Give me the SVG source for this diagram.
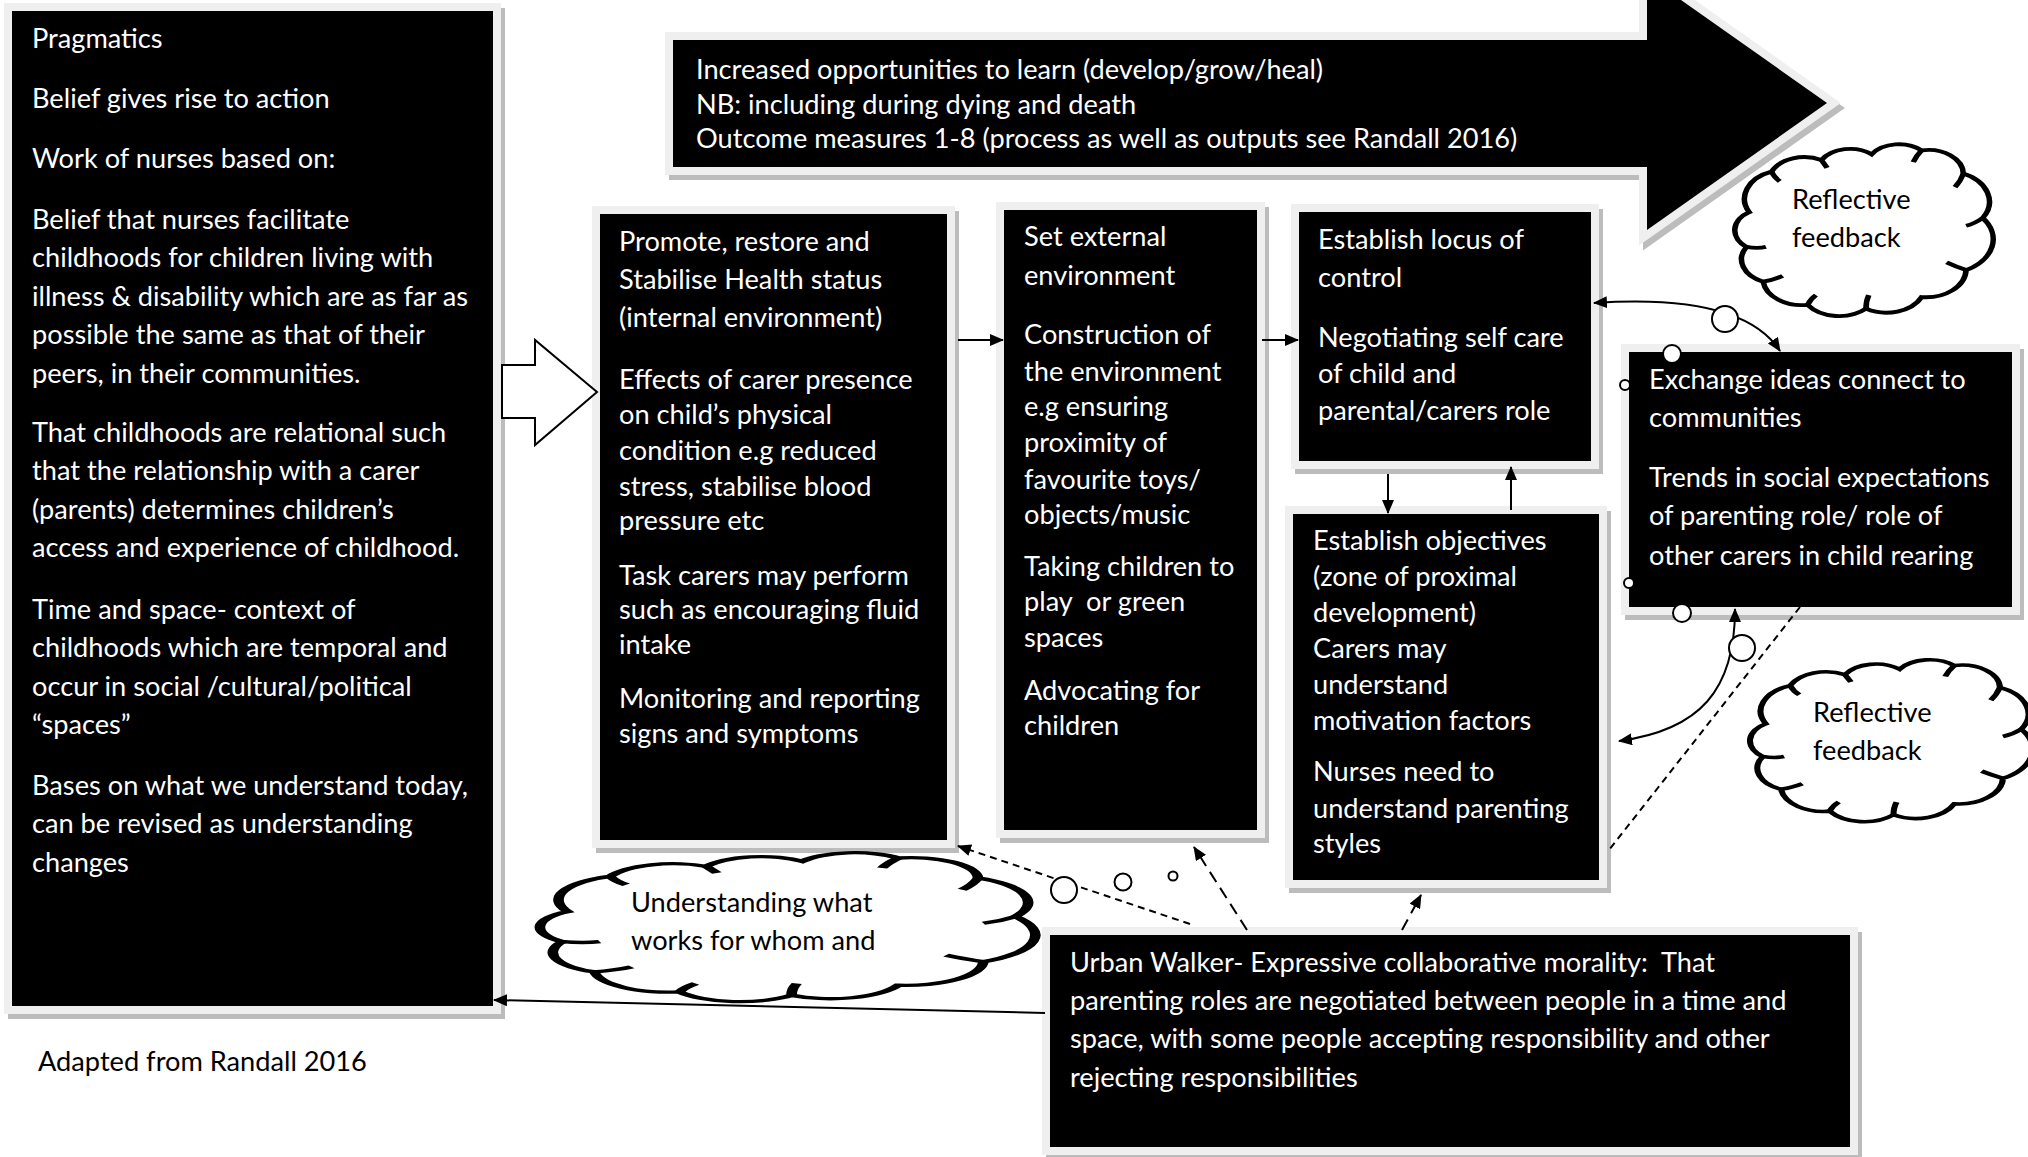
<svg xmlns="http://www.w3.org/2000/svg" width="2028" height="1157" viewBox="0 0 2028 1157">
<defs>
<style>
.sh{fill:#bcbcbc}
.fr{fill:#efefef}
.bx{fill:#000}
.t{font-family:Lato,"Liberation Sans",sans-serif;font-size:27.2px;white-space:pre}
.w{fill:#fff}
.k{fill:#000}
.ln{stroke:#000;stroke-width:2;fill:none}
.d1{stroke-dasharray:7 5}
.d2{stroke-dasharray:12 7}
.cl{fill:#fff;stroke:#000;stroke-width:2;vector-effect:non-scaling-stroke}
.ci{fill:none;stroke:#000;stroke-width:2;vector-effect:non-scaling-stroke}
.bub{fill:#fff;stroke:#000;stroke-width:2}
</style>
<marker id="ah" viewBox="0 0 14 12" refX="13" refY="6" markerWidth="14" markerHeight="12" markerUnits="userSpaceOnUse" orient="auto-start-reverse">
<path d="M0,0 L14,6 L0,12 z" fill="#000"/>
</marker>
<path id="cloud" d="M8,40 A15,15 0 0 1 16,19 A13,13 0 0 1 34,13 A12,12 0 0 1 52,10 A12,12 0 0 1 70,8 A12.5,12.5 0 0 1 85,20 A16,16 0 0 1 92,43 A18,18 0 0 1 86,70 A14.5,14.5 0 0 1 70,84 A14,14 0 0 1 50,90 A14,14 0 0 1 29,88 A14,14 0 0 1 13,76 A12.5,12.5 0 0 1 7,58 A11,11 0 0 1 8,40 Z"/>
<path id="cloudin" d="M16,19 Q17,22 19,24 M34,13 Q35,15 36,17 M70,8 Q68,11 67,14 M85,20 Q84,24 82,27 M92,43 Q89,46 86,47 M86,70 Q82,68 79,66 M50,90 Q50,86 51,83 M29,88 Q30,85 32,83 M13,76 Q17,75 20,73 M7,58 Q11,59 14,58"/>
</defs>
<rect width="2028" height="1157" fill="#fff"/>

<g id="node-pragmatics">
<rect class="sh" x="8" y="8" width="497" height="1011"/>
<rect class="fr" x="4" y="3" width="497" height="1011"/>
<rect class="bx" x="12" y="11" width="481" height="995"/>
<text class="t w">
<tspan x="32" y="48">Pragmatics</tspan>
<tspan x="32" y="108">Belief gives rise to action</tspan>
<tspan x="32" y="168">Work of nurses based on:</tspan>
<tspan x="32" y="229">Belief that nurses facilitate</tspan>
<tspan x="32" y="267">childhoods for children living with</tspan>
<tspan x="32" y="306">illness &amp; disability which are as far as</tspan>
<tspan x="32" y="344">possible the same as that of their</tspan>
<tspan x="32" y="383">peers, in their communities.</tspan>
<tspan x="32" y="442">That childhoods are relational such</tspan>
<tspan x="32" y="480">that the relationship with a carer</tspan>
<tspan x="32" y="519">(parents) determines children’s</tspan>
<tspan x="32" y="557">access and experience of childhood.</tspan>
<tspan x="32" y="619">Time and space- context of</tspan>
<tspan x="32" y="657">childhoods which are temporal and</tspan>
<tspan x="32" y="696">occur in social /cultural/political</tspan>
<tspan x="32" y="734">“spaces”</tspan>
<tspan x="32" y="795">Bases on what we understand today,</tspan>
<tspan x="32" y="833">can be revised as understanding</tspan>
<tspan x="32" y="872">changes</tspan>
</text>
</g>

<g id="node-outcomes">
<polygon points="673,40 1647,40 1647,-24 1827,103 1647,230 1647,167 673,167" transform="translate(4,5)" fill="#bcbcbc" stroke="#bcbcbc" stroke-width="16" stroke-linejoin="miter" stroke-miterlimit="4"/>
<polygon points="673,40 1647,40 1647,-24 1827,103 1647,230 1647,167 673,167" fill="#efefef" stroke="#efefef" stroke-width="16" stroke-linejoin="miter" stroke-miterlimit="4"/>
<polygon points="673,40 1647,40 1647,-24 1827,103 1647,230 1647,167 673,167" fill="#000"/>
<text class="t w">
<tspan x="696" y="79">Increased opportunities to learn (develop/grow/heal)</tspan>
<tspan x="696" y="114">NB: including during dying and death</tspan>
<tspan x="696" y="148">Outcome measures 1-8 (process as well as outputs see Randall 2016)</tspan>
</text>
</g>

<g id="node-health">
<rect class="sh" x="596" y="211" width="363" height="642"/>
<rect class="fr" x="592" y="206" width="363" height="642"/>
<rect class="bx" x="600" y="214" width="347" height="626"/>
<text class="t w">
<tspan x="619" y="251">Promote, restore and</tspan>
<tspan x="619" y="289">Stabilise Health status</tspan>
<tspan x="619" y="327">(internal environment)</tspan>
<tspan x="619" y="389">Effects of carer presence</tspan>
<tspan x="619" y="424">on child’s physical</tspan>
<tspan x="619" y="460">condition e.g reduced</tspan>
<tspan x="619" y="496">stress, stabilise blood</tspan>
<tspan x="619" y="530">pressure etc</tspan>
<tspan x="619" y="585">Task carers may perform</tspan>
<tspan x="619" y="619">such as encouraging fluid</tspan>
<tspan x="619" y="654">intake</tspan>
<tspan x="619" y="708">Monitoring and reporting</tspan>
<tspan x="619" y="743">signs and symptoms</tspan>
</text>
</g>

<g id="node-environment">
<rect class="sh" x="1000" y="207" width="269" height="636"/>
<rect class="fr" x="996" y="202" width="269" height="636"/>
<rect class="bx" x="1004" y="210" width="253" height="620"/>
<text class="t w">
<tspan x="1024" y="246">Set external</tspan>
<tspan x="1024" y="285">environment</tspan>
<tspan x="1024" y="344">Construction of</tspan>
<tspan x="1024" y="381">the environment</tspan>
<tspan x="1024" y="416">e.g ensuring</tspan>
<tspan x="1024" y="452">proximity of</tspan>
<tspan x="1024" y="489">favourite toys/</tspan>
<tspan x="1024" y="524">objects/music</tspan>
<tspan x="1024" y="576">Taking children to</tspan>
<tspan x="1024" y="611">play  or green</tspan>
<tspan x="1024" y="647">spaces</tspan>
<tspan x="1024" y="700">Advocating for</tspan>
<tspan x="1024" y="735">children</tspan>
</text>
</g>

<g id="node-locus">
<rect class="sh" x="1295" y="209" width="308" height="265"/>
<rect class="fr" x="1291" y="204" width="308" height="265"/>
<rect class="bx" x="1299" y="212" width="292" height="249"/>
<text class="t w">
<tspan x="1318" y="249">Establish locus of</tspan>
<tspan x="1318" y="287">control</tspan>
<tspan x="1318" y="347">Negotiating self care</tspan>
<tspan x="1318" y="383">of child and</tspan>
<tspan x="1318" y="420">parental/carers role</tspan>
</text>
</g>

<g id="node-objectives">
<rect class="sh" x="1289" y="511" width="322" height="382"/>
<rect class="fr" x="1285" y="506" width="322" height="382"/>
<rect class="bx" x="1293" y="514" width="306" height="366"/>
<text class="t w">
<tspan x="1313" y="550">Establish objectives</tspan>
<tspan x="1313" y="586">(zone of proximal</tspan>
<tspan x="1313" y="622">development)</tspan>
<tspan x="1313" y="658">Carers may</tspan>
<tspan x="1313" y="694">understand</tspan>
<tspan x="1313" y="730">motivation factors</tspan>
<tspan x="1313" y="781">Nurses need to</tspan>
<tspan x="1313" y="818">understand parenting</tspan>
<tspan x="1313" y="853">styles</tspan>
</text>
</g>

<g id="node-communities">
<rect class="sh" x="1625" y="349" width="399" height="271"/>
<rect class="fr" x="1621" y="344" width="399" height="271"/>
<rect class="bx" x="1629" y="352" width="383" height="255"/>
<text class="t w">
<tspan x="1649" y="389">Exchange ideas connect to</tspan>
<tspan x="1649" y="427">communities</tspan>
<tspan x="1649" y="487">Trends in social expectations</tspan>
<tspan x="1649" y="525">of parenting role/ role of</tspan>
<tspan x="1649" y="565">other carers in child rearing</tspan>
</text>
</g>

<g id="node-walker">
<rect class="sh" x="1046" y="932" width="816" height="228"/>
<rect class="fr" x="1042" y="927" width="816" height="228"/>
<rect class="bx" x="1050" y="935" width="800" height="212"/>
<text class="t w">
<tspan x="1070" y="972">Urban Walker- Expressive collaborative morality:  That</tspan>
<tspan x="1070" y="1010">parenting roles are negotiated between people in a time and</tspan>
<tspan x="1070" y="1048">space, with some people accepting responsibility and other</tspan>
<tspan x="1070" y="1087">rejecting responsibilities</tspan>
</text>
</g>

<g id="connectors">
<polygon points="502,365 535,365 535,340 597,392 535,445 535,418 502,418" fill="#fff" stroke="#000" stroke-width="2" stroke-linejoin="miter"/>
<line class="ln" x1="958" y1="340" x2="1003" y2="340" marker-end="url(#ah)"/>
<line class="ln" x1="1262" y1="340" x2="1298" y2="340" marker-end="url(#ah)"/>
<line class="ln" x1="1388" y1="474" x2="1388" y2="513" marker-end="url(#ah)"/>
<line class="ln" x1="1511" y1="510" x2="1511" y2="467" marker-end="url(#ah)"/>
<path class="ln" d="M1780,351 C1752,308 1682,297 1594,303" marker-start="url(#ah)" marker-end="url(#ah)"/>
<path class="ln" d="M1735,609 C1735,690 1700,730 1619,741" marker-start="url(#ah)" marker-end="url(#ah)"/>
<line class="ln d1" x1="1800" y1="607" x2="1609" y2="850"/>
<line class="ln d1" x1="1190" y1="924" x2="958" y2="846" marker-end="url(#ah)"/>
<line class="ln d2" x1="1247" y1="930" x2="1194" y2="847" marker-end="url(#ah)"/>
<line class="ln d2" x1="1402" y1="930" x2="1421" y2="895" marker-end="url(#ah)"/>
<line class="ln" x1="1045" y1="1013" x2="494" y2="1000" marker-end="url(#ah)"/>
<circle class="bub" cx="1725" cy="319" r="13"/>
<circle class="bub" cx="1742" cy="648" r="13"/>
<circle class="bub" cx="1672" cy="354" r="9"/>
<circle class="bub" cx="1625" cy="385" r="5"/>
<circle class="bub" cx="1629" cy="583" r="5"/>
<circle class="bub" cx="1682" cy="613" r="9"/>
<circle class="bub" cx="1064" cy="890" r="13"/>
<circle class="bub" cx="1123" cy="882" r="8.5"/>
<circle class="bub" cx="1173" cy="876" r="4.5"/>
</g>

<g id="cloud-reflective-1">
<g transform="translate(1727,135) scale(2.78,1.93)">
<use href="#cloud" class="cl"/>
<use href="#cloudin" class="ci"/>
</g>
<text class="t k"><tspan x="1792" y="209">Reflective</tspan><tspan x="1792" y="247">feedback</tspan></text>
</g>

<g id="cloud-reflective-2">
<g transform="translate(1741.5,651) scale(3.04,1.82)">
<use href="#cloud" class="cl"/>
<use href="#cloudin" class="ci"/>
</g>
<text class="t k"><tspan x="1813" y="722">Reflective</tspan><tspan x="1813" y="760">feedback</tspan></text>
</g>

<g id="cloud-understanding">
<g transform="translate(525,844.6) scale(5.33,1.674)">
<use href="#cloud" class="cl"/>
<use href="#cloudin" class="ci"/>
</g>
<text class="t k"><tspan x="631" y="912">Understanding what</tspan><tspan x="631" y="950">works for whom and</tspan></text>
</g>

<g id="caption">
<text class="t k"><tspan x="38" y="1071">Adapted from Randall 2016</tspan></text>
</g>
</svg>
